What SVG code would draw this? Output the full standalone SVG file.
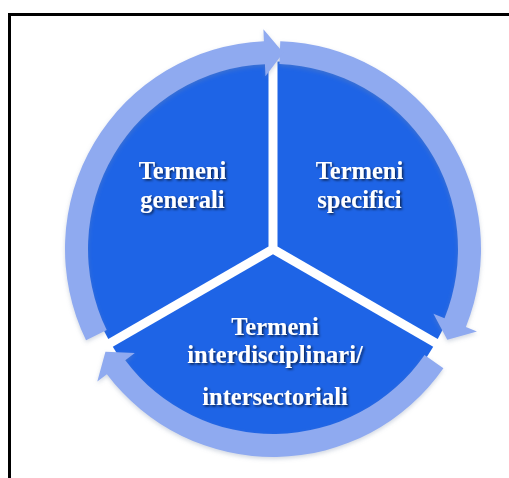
<svg xmlns="http://www.w3.org/2000/svg" width="509" height="478" viewBox="0 0 509 478">
<defs>
<filter id="ts" x="-20%" y="-40%" width="140%" height="180%">
<feDropShadow dx="1.5" dy="1.5" stdDeviation="1" flood-color="#000" flood-opacity="0.65"/>
</filter>
<filter id="glow" x="-10%" y="-10%" width="120%" height="120%">
<feDropShadow dx="0" dy="2" stdDeviation="2" flood-color="#7a8aa8" flood-opacity="0.35"/>
</filter>
</defs>
<style>
.wedge{fill:#1e64e6}
.ring{fill:#8faaf0}
.lbl{font-family:"Liberation Serif","Times New Roman",serif;font-weight:bold;font-size:24.5px;fill:#ffffff;text-anchor:middle;filter:url(#ts)}
</style>
<rect width="509" height="478" fill="#ffffff"/>
<path d="M9.5,478 V14.5 H509" fill="none" stroke="#000" stroke-width="3"/>
<g id="node-generali" transform="translate(-4.5,-2.6)">
<path class="wedge" d="M273,249 L112.79,341.5 A185,185 0 0 1 273,64 Z"/>
<text class="lbl" x="187" y="182">Termeni</text>
<text class="lbl" x="187" y="211">generali</text>
</g>
<g id="node-specifici" transform="translate(4.5,-2.6)">
<path class="wedge" d="M273,249 L273,64 A185,185 0 0 1 433.21,341.5 Z"/>
<text class="lbl" x="355" y="182">Termeni</text>
<text class="lbl" x="355" y="211">specifici</text>
</g>
<g id="node-interdisciplinari" transform="translate(0,5.2)">
<path class="wedge" d="M273,249 L433.21,341.5 A185,185 0 0 1 112.79,341.5 Z"/>
<text class="lbl" x="275" y="330">Termeni</text>
<text class="lbl" x="275" y="358">interdisciplinari/</text>
<text class="lbl" x="275" y="400">intersectoriali</text>
</g>
<g id="connectors" filter="url(#glow)">
<path class="ring" d="M280.26,41.13 A208,208 0 0 1 465.86,326.92 L476.98,331.41 L447.30,339.72 L433.41,313.81 L444.53,318.30 A185,185 0 0 0 279.46,64.11 Z"/>
<path class="ring" d="M443.39,368.31 A208,208 0 0 1 106.89,374.17 L97.31,381.40 L105.46,351.67 L134.84,353.11 L125.26,360.33 A185,185 0 0 0 424.55,355.12 Z"/>
<path class="ring" d="M86.05,340.19 A208,208 0 0 1 263.93,41.21 L263.41,29.22 L283.28,52.78 L265.46,76.17 L264.93,64.18 A185,185 0 0 0 106.72,330.10 Z"/>
</g>
</svg>
